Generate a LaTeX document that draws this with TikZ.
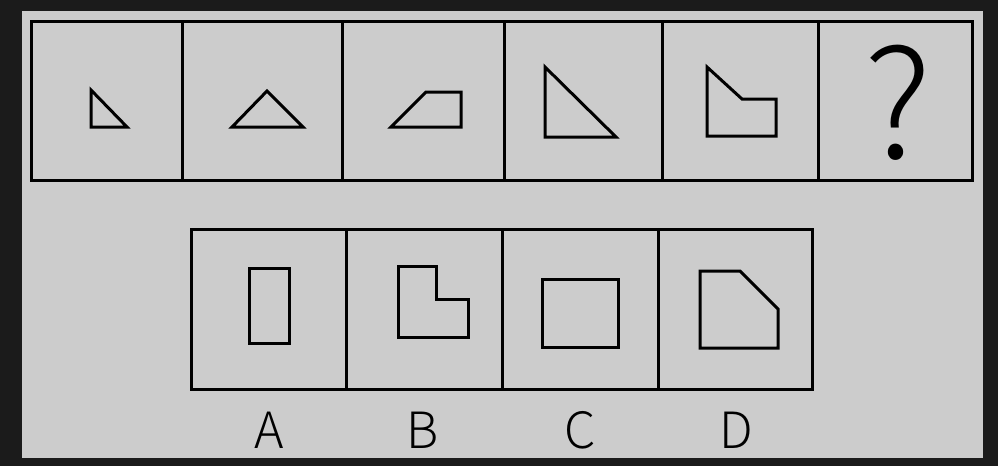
\documentclass[tikz,border=0pt]{standalone}
\usepackage{fontspec}
\setmainfont{Noto Sans CJK SC}[UprightFont={* Light}]
\usetikzlibrary{positioning}

\definecolor{pagebg}{HTML}{1B1B1B}
\definecolor{panelgray}{HTML}{CCCCCC}

\begin{document}
\begin{tikzpicture}[
  x=1pt, y=-1pt,
  frame/.style={draw=black, line width=3pt},
  figure/.style={draw=black, line width=3pt, line join=miter},
  qmark/.style={anchor=base, inner sep=0pt, font=\fontsize{150}{150}\selectfont},
  optlabel/.style={anchor=base, inner sep=0pt, font=\fontsize{50}{50}\selectfont}
]

% background and panel
\fill[pagebg] (0,0) rectangle (998,466);
\fill[panelgray] (22,11) rectangle (983,458);

% top row of cells
\draw[frame] (31,21) rectangle (972,180);
\draw[frame] (182,21) -- (182,180);
\draw[frame] (342,21) -- (342,180);
\draw[frame] (504,21) -- (504,180);
\draw[frame] (662,21) -- (662,180);
\draw[frame] (818,21) -- (818,180);

% figures of the sequence
\draw[figure] (91,90) -- (91,127) -- (127,127) -- cycle;
\draw[figure] (232,127) -- (267,91) -- (303,127) -- cycle;
\draw[figure] (391,127) -- (426,92) -- (461,92) -- (461,127) -- cycle;
\draw[figure] (545,67) -- (545,137) -- (616,137) -- cycle;
\draw[figure] (707,67) -- (742,99) -- (776,99) -- (776,136) -- (707,136) -- cycle;
\node[qmark] (question) at (898,158) {?};

% answer cells
\draw[frame] (191,229) rectangle (812,389);
\draw[frame] (346,229) -- (346,389);
\draw[frame] (502,229) -- (502,389);
\draw[frame] (658,229) -- (658,389);

% answer figures
\draw[figure] (249,268) rectangle (289,343);
\draw[figure] (398,266) -- (436,266) -- (436,299) -- (468,299) -- (468,337) -- (398,337) -- cycle;
\draw[figure] (542,279) rectangle (618,347);
\draw[figure] (700,271) -- (740,271) -- (778,309) -- (778,348) -- (700,348) -- cycle;

% option letters
\node[optlabel] (optA) at (269,448) {A};
\node[optlabel] (optB) at (423,448) {B};
\node[optlabel] (optC) at (580,448) {C};
\node[optlabel] (optD) at (736,448) {D};

\end{tikzpicture}
\end{document}
